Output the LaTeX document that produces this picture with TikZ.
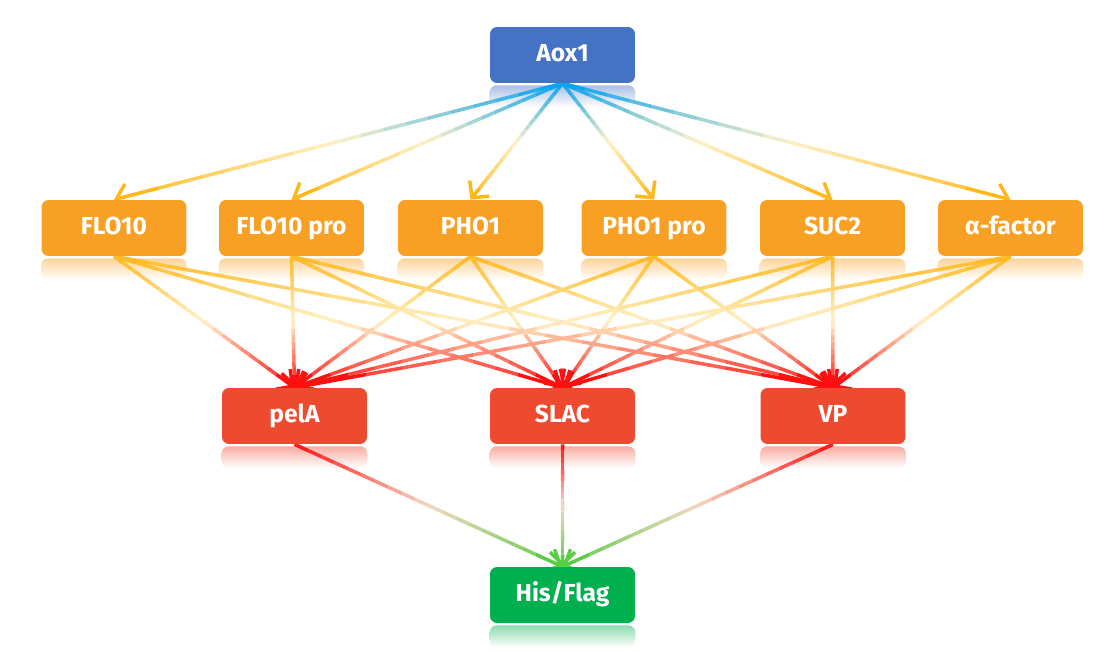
\documentclass[tikz,border=0pt]{standalone}
\usepackage{fontspec}
\setmainfont{Fira Sans}
\usetikzlibrary{calc,arrows.meta,backgrounds}
\definecolor{boxblue}{HTML}{4472C4}
\definecolor{boxorange}{HTML}{F8A023}
\definecolor{boxred}{HTML}{EE4A30}
\definecolor{boxgreen}{HTML}{00B04F}
\definecolor{lineblue}{HTML}{00A0F0}
\definecolor{lineyellow}{HTML}{FFB81C}
\definecolor{linepale}{HTML}{FFF2C8}
\definecolor{linered}{HTML}{FF1010}
\definecolor{linepink}{HTML}{F4D8C4}
\definecolor{linegreen}{HTML}{5ACD46}
\tikzset{
  box/.style={rounded corners=4pt, minimum width=2.9cm, minimum height=1.12cm,
    text height=10pt, text depth=3pt,
    text=white, font=\bfseries\fontsize{14}{16}\selectfont},
  wire/.style={line width=2pt},
}
\newcommand\mirror[2]{\shade[top color=#2!45, bottom color=white, rounded corners=4pt]
  ($(#1.south west)+(0,2)$) rectangle ($(#1.south east)+(0,24)$);}
\newcommand\grad[5]{%
  \foreach \i in {1,...,18}{
    \pgfmathsetmacro\ta{(\i-1)/20}
    \pgfmathsetmacro\tb{\i/20}
    \ifnum\i<11
      \pgfmathtruncatemacro\p{round(10*(\i-0.5))}
      \colorlet{segc}{#4!\p!#3}
    \else
      \pgfmathtruncatemacro\p{round(10*(\i-10.5))}
      \colorlet{segc}{#5!\p!#4}
    \fi
    \draw[wire, segc] ($(#1.south)!\ta!(#2.north)$) -- ($(#1.south)!\tb!(#2.north)$);
  }
  \draw[wire, #5, -{Straight Barb[length=2.4mm,width=5mm]}] ($(#1.south)!0.9!(#2.north)$) -- (#2.north);
}
\begin{document}
\begin{tikzpicture}[x=0.02cm, y=-0.02cm]
  \useasboundingbox (0,0) rectangle (1102,652);
  \node[box, fill=boxblue] (aox) at (562.5,55) {Aox1};
  \node[box, fill=boxorange] (flo) at (114,228) {FLO10};
  \node[box, fill=boxorange] (flopro) at (291.5,228) {FLO10 pro};
  \node[box, fill=boxorange] (pho) at (470.5,228) {PHO1};
  \node[box, fill=boxorange] (phopro) at (654,228) {PHO1 pro};
  \node[box, fill=boxorange] (suc) at (832.5,228) {SUC2};
  \node[box, fill=boxorange] (alpha) at (1010.5,228) {α-factor};
  \node[box, fill=boxred] (pela) at (294.5,416) {pelA};
  \node[box, fill=boxred] (slac) at (562.5,416) {SLAC};
  \node[box, fill=boxred] (vp) at (833,416) {VP};
  \node[box, fill=boxgreen] (his) at (562.5,595) {His/Flag};
  \begin{scope}[on background layer]
    \mirror{aox}{boxblue}
    \foreach \s in {flo,flopro,pho,phopro,suc,alpha} {\mirror{\s}{boxorange}}
    \foreach \s in {pela,slac,vp} {\mirror{\s}{boxred}}
    \mirror{his}{boxgreen}
    \foreach \s in {flo,flopro,pho,phopro,suc,alpha} {\grad{aox}{\s}{lineblue}{linepale}{lineyellow}}
    \foreach \s in {flo,flopro,pho,phopro,suc,alpha}
      \foreach \t in {pela,slac,vp} {\grad{\s}{\t}{lineyellow}{linepale}{linered}}
    \foreach \s in {pela,slac,vp} {\grad{\s}{his}{linered}{linepink}{linegreen}}
  \end{scope}
\end{tikzpicture}
\end{document}
